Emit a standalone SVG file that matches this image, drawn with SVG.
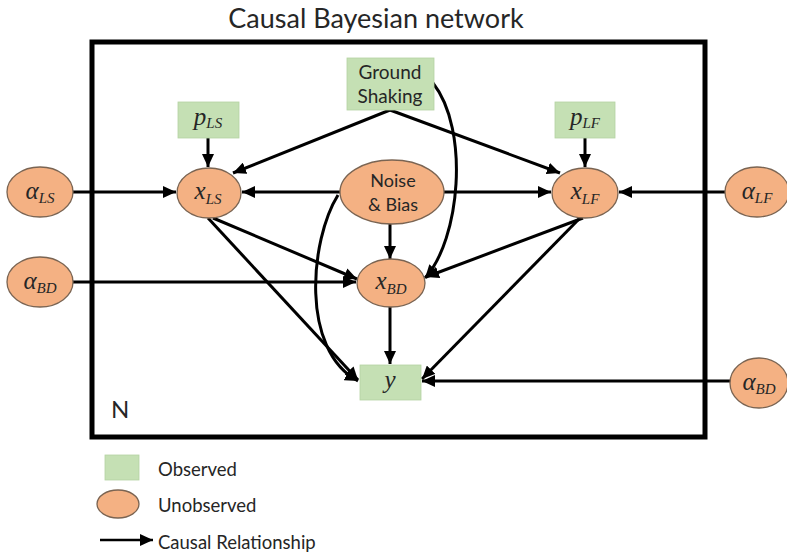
<svg xmlns="http://www.w3.org/2000/svg" width="787" height="560" viewBox="0 0 787 560">
<defs>
<marker id="ah" markerUnits="userSpaceOnUse" markerWidth="14" markerHeight="12" refX="13" refY="6" orient="auto">
<path d="M0,0 L13,6 L0,12 z" fill="#000"/>
</marker>
<style>
.obs{fill:#C5E0B4;stroke:#b5d3a2;stroke-width:0.8}
.un{fill:#F4B183;stroke:#7a6452;stroke-width:1.3}
.e{fill:none;stroke:#000;stroke-width:3;marker-end:url(#ah)}
.s{font-family:Lato,"Liberation Sans",sans-serif;fill:#262626}
.m{font-family:"Liberation Serif","DejaVu Serif",serif;font-style:italic;fill:#262626;font-size:25px}
.sub{font-size:15px}
</style>
</defs>
<rect width="787" height="560" fill="#fff"/>
<text class="s" x="376" y="28" font-size="27" text-anchor="middle">Causal Bayesian network</text>
<rect x="92" y="42" width="613" height="395" fill="none" stroke="#000" stroke-width="5"/>
<text class="s" x="111" y="418" font-size="24">N</text>

<g id="connectors">
<line class="e" x1="73" y1="192" x2="176" y2="192"/>
<line class="e" x1="208" y1="138" x2="208" y2="167"/>
<line class="e" x1="390" y1="110" x2="233" y2="173"/>
<line class="e" x1="340" y1="192" x2="242" y2="192"/>
<line class="e" x1="390" y1="110" x2="560" y2="173"/>
<line class="e" x1="585" y1="138" x2="585" y2="167"/>
<line class="e" x1="444" y1="192" x2="551" y2="192"/>
<line class="e" x1="725" y1="192" x2="619" y2="192"/>
<line class="e" x1="73" y1="282" x2="356" y2="282"/>
<line class="e" x1="213" y1="218" x2="357" y2="279"/>
<line class="e" x1="390" y1="224" x2="390" y2="259"/>
<path class="e" d="M433,83 C470,130 460,240 425,278"/>
<line class="e" x1="583" y1="218" x2="426" y2="277"/>
<line class="e" x1="208" y1="218" x2="358" y2="380"/>
<path class="e" d="M338,195 C310,240 300,350 358,381"/>
<line class="e" x1="390" y1="306" x2="390" y2="364"/>
<line class="e" x1="580" y1="218" x2="422" y2="379"/>
<line class="e" x1="731" y1="381" x2="422" y2="381"/>
</g>

<g id="ground">
<rect class="obs" x="347" y="58" width="87" height="52"/>
<text class="s" x="390" y="79" font-size="19" text-anchor="middle">Ground</text>
<text class="s" x="390" y="103" font-size="19" text-anchor="middle">Shaking</text>
</g>
<g id="pLS">
<rect class="obs" x="178" y="102" width="61" height="36"/>
<text class="m" x="208" y="125" text-anchor="middle">p<tspan class="sub" dy="3">LS</tspan></text>
</g>
<g id="pLF">
<rect class="obs" x="555" y="102" width="60" height="36"/>
<text class="m" x="585" y="125" text-anchor="middle">p<tspan class="sub" dy="3">LF</tspan></text>
</g>
<g id="alphaLS">
<ellipse class="un" cx="40" cy="192" rx="33" ry="25"/>
<text class="m" x="40" y="199" text-anchor="middle">α<tspan class="sub" dy="4">LS</tspan></text>
</g>
<g id="xLS">
<ellipse class="un" cx="209" cy="193" rx="32" ry="25"/>
<text class="m" x="208" y="199" text-anchor="middle">x<tspan class="sub" dy="5">LS</tspan></text>
</g>
<g id="noise">
<ellipse class="un" cx="392" cy="192" rx="52" ry="32"/>
<text class="s" x="393" y="187" font-size="18" text-anchor="middle">Noise</text>
<text class="s" x="393" y="211" font-size="18" text-anchor="middle">&amp; Bias</text>
</g>
<g id="xLF">
<ellipse class="un" cx="585" cy="193" rx="33" ry="25"/>
<text class="m" x="585" y="199" text-anchor="middle">x<tspan class="sub" dy="5">LF</tspan></text>
</g>
<g id="alphaLF">
<ellipse class="un" cx="757" cy="192" rx="32" ry="25"/>
<text class="m" x="757" y="199" text-anchor="middle">α<tspan class="sub" dy="4">LF</tspan></text>
</g>
<g id="alphaBD1">
<ellipse class="un" cx="40" cy="282" rx="33" ry="25"/>
<text class="m" x="40" y="289" text-anchor="middle">α<tspan class="sub" dy="4">BD</tspan></text>
</g>
<g id="xBD">
<ellipse class="un" cx="391" cy="283" rx="34" ry="24"/>
<text class="m" x="391" y="289" text-anchor="middle">x<tspan class="sub" dy="5">BD</tspan></text>
</g>
<g id="y">
<rect class="obs" x="360" y="365" width="61" height="35"/>
<text class="m" x="390" y="388" text-anchor="middle">y</text>
</g>
<g id="alphaBD2">
<ellipse class="un" cx="759" cy="383" rx="29" ry="25"/>
<text class="m" x="759" y="390" text-anchor="middle">α<tspan class="sub" dy="4">BD</tspan></text>
</g>

<g id="legend">
<rect class="obs" x="105" y="455" width="34" height="25"/>
<text class="s" x="158" y="476" font-size="18.5">Observed</text>
<ellipse class="un" cx="118" cy="504" rx="21" ry="14"/>
<text class="s" x="158" y="512" font-size="18.5">Unobserved</text>
<line class="e" x1="100" y1="540" x2="153" y2="540" style="stroke-width:2.5"/>
<text class="s" x="158" y="549" font-size="18.5">Causal Relationship</text>
</g>
</svg>
